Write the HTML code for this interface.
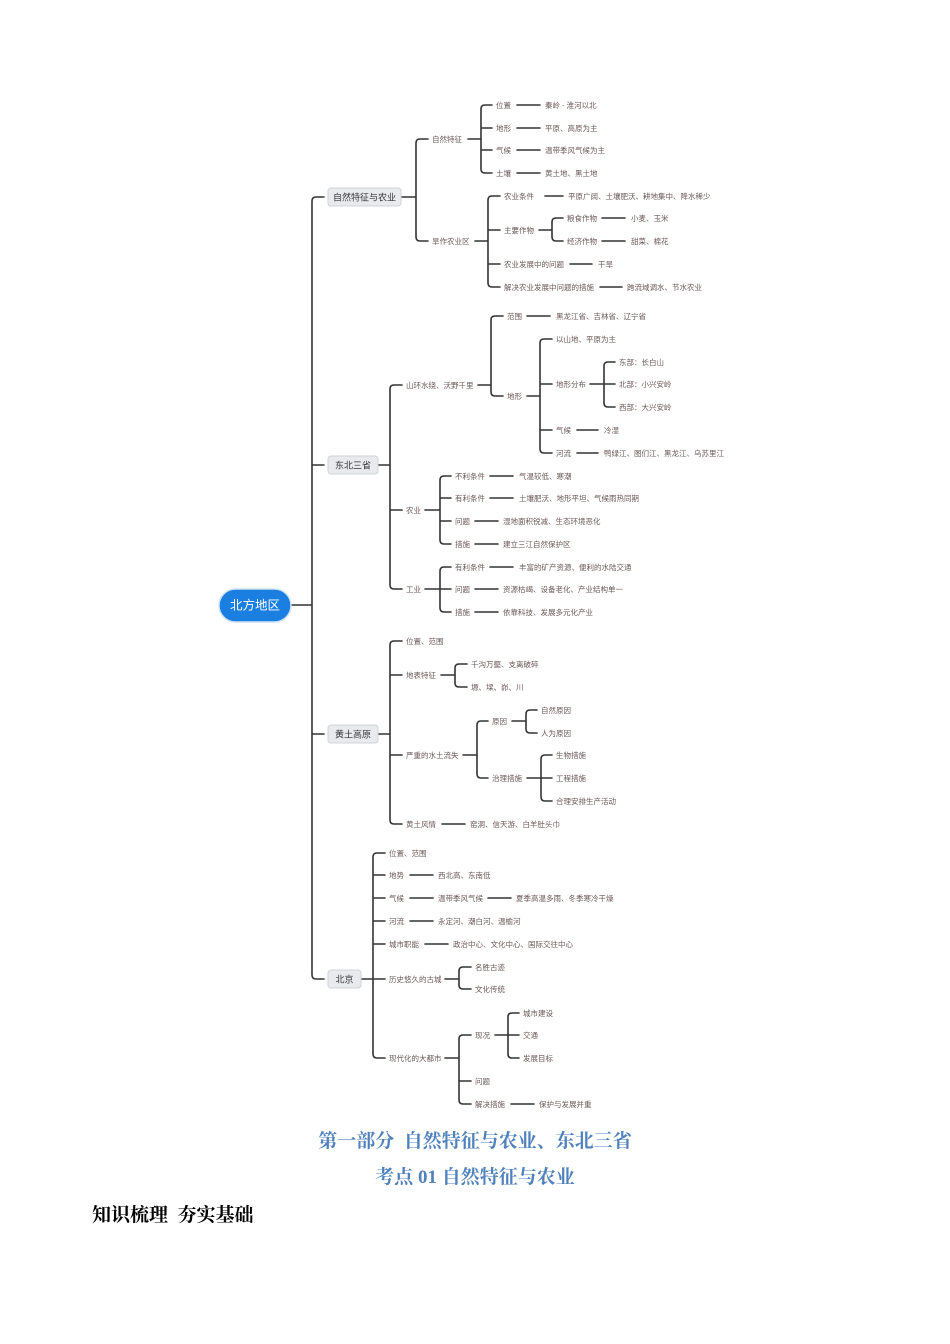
<!DOCTYPE html>
<html><head><meta charset="utf-8"><style>
html,body{margin:0;padding:0;background:#fff;width:950px;height:1344px;overflow:hidden}
svg{position:absolute;left:0;top:0}
.t{font-family:"Liberation Sans","Noto Sans CJK SC",sans-serif;font-size:7.5px;fill:#6b5757;dominant-baseline:central}
.b{font-family:"Liberation Sans","Noto Sans CJK SC",sans-serif;font-size:9px;fill:#333;dominant-baseline:central}
.h{position:absolute;left:0;width:950px;text-align:center;font-family:"Liberation Serif","Noto Serif CJK SC",serif;font-weight:bold;color:#4f81bd;font-size:19px}
</style></head><body>
<svg id="s" width="950" height="1344" viewBox="0 0 950 1344">
<g id="lines" fill="none" stroke="#333" stroke-width="1.6" stroke-linecap="round"></g>
<rect x="219" y="589" width="72" height="33" rx="16.5" fill="#1a7fe0" stroke="#cfe3f7" stroke-width="1.5"/>
<text x="255" y="605.5" text-anchor="middle" dominant-baseline="central" font-family="Liberation Sans,Noto Sans CJK SC,sans-serif" font-size="12.5" fill="#fff">北方地区</text>
<rect x="328" y="188" width="73" height="18" rx="3" fill="#e8eaed" stroke="#d0d3d8"/>
<text class="b" x="364.5" y="197.5" text-anchor="middle">自然特征与农业</text>
<rect x="328" y="456" width="50" height="18" rx="3" fill="#e8eaed" stroke="#d0d3d8"/>
<text class="b" x="353" y="465.5" text-anchor="middle">东北三省</text>
<rect x="328" y="725" width="50" height="18" rx="3" fill="#e8eaed" stroke="#d0d3d8"/>
<text class="b" x="353" y="734.5" text-anchor="middle">黄土高原</text>
<rect x="328" y="970" width="33" height="18" rx="3" fill="#e8eaed" stroke="#d0d3d8"/>
<text class="b" x="344.5" y="979.5" text-anchor="middle">北京</text>
<g transform="translate(0,0.5)">
<text class="t" x="432" y="139">自然特征</text>
<text class="t" x="432" y="241">旱作农业区</text>
<text class="t" x="496" y="105">位置</text><text class="t" x="545" y="105">秦岭 - 淮河以北</text>
<text class="t" x="496" y="128">地形</text><text class="t" x="545" y="128">平原、高原为主</text>
<text class="t" x="496" y="150">气候</text><text class="t" x="545" y="150">温带季风气候为主</text>
<text class="t" x="496" y="173">土壤</text><text class="t" x="545" y="173">黄土地、黑土地</text>
<text class="t" x="504" y="196">农业条件</text><text class="t" x="568" y="196">平原广阔、土壤肥沃、耕地集中、降水稀少</text>
<text class="t" x="504" y="230">主要作物</text>
<text class="t" x="567" y="218">粮食作物</text><text class="t" x="631" y="218">小麦、玉米</text>
<text class="t" x="567" y="241">经济作物</text><text class="t" x="631" y="241">甜菜、棉花</text>
<text class="t" x="504" y="264">农业发展中的问题</text><text class="t" x="598" y="264">干旱</text>
<text class="t" x="504" y="287">解决农业发展中问题的措施</text><text class="t" x="627" y="287">跨流域调水、节水农业</text>

<text class="t" x="406" y="385">山环水绕、沃野千里</text>
<text class="t" x="507" y="316">范围</text><text class="t" x="556" y="316">黑龙江省、吉林省、辽宁省</text>
<text class="t" x="507" y="396">地形</text>
<text class="t" x="556" y="339">以山地、平原为主</text>
<text class="t" x="556" y="384">地形分布</text>
<text class="t" x="619" y="362">东部：长白山</text>
<text class="t" x="619" y="384">北部：小兴安岭</text>
<text class="t" x="619" y="407">西部：大兴安岭</text>
<text class="t" x="556" y="430">气候</text><text class="t" x="604" y="430">冷湿</text>
<text class="t" x="556" y="453">河流</text><text class="t" x="604" y="453">鸭绿江、图们江、黑龙江、乌苏里江</text>
<text class="t" x="406" y="510">农业</text>
<text class="t" x="455" y="476">不利条件</text><text class="t" x="519" y="476">气温较低、寒潮</text>
<text class="t" x="455" y="498">有利条件</text><text class="t" x="519" y="498">土壤肥沃、地形平坦、气候雨热同期</text>
<text class="t" x="455" y="521">问题</text><text class="t" x="503" y="521">湿地面积锐减、生态环境恶化</text>
<text class="t" x="455" y="544">措施</text><text class="t" x="503" y="544">建立三江自然保护区</text>
<text class="t" x="406" y="589">工业</text>
<text class="t" x="455" y="567">有利条件</text><text class="t" x="519" y="567">丰富的矿产资源、便利的水陆交通</text>
<text class="t" x="455" y="589">问题</text><text class="t" x="503" y="589">资源枯竭、设备老化、产业结构单一</text>
<text class="t" x="455" y="612">措施</text><text class="t" x="503" y="612">依靠科技、发展多元化产业</text>

<text class="t" x="406" y="641">位置、范围</text>
<text class="t" x="406" y="675">地表特征</text>
<text class="t" x="471" y="664">千沟万壑、支离破碎</text>
<text class="t" x="471" y="687">塬、墚、峁、川</text>
<text class="t" x="406" y="755">严重的水土流失</text>
<text class="t" x="492" y="721">原因</text>
<text class="t" x="541" y="710">自然原因</text>
<text class="t" x="541" y="733">人为原因</text>
<text class="t" x="492" y="778">治理措施</text>
<text class="t" x="556" y="755">生物措施</text>
<text class="t" x="556" y="778">工程措施</text>
<text class="t" x="556" y="801">合理安排生产活动</text>
<text class="t" x="406" y="824">黄土风情</text><text class="t" x="470" y="824">窑洞、信天游、白羊肚头巾</text>

<text class="t" x="389" y="853">位置、范围</text>
<text class="t" x="389" y="875">地势</text><text class="t" x="438" y="875">西北高、东南低</text>
<text class="t" x="389" y="898">气候</text><text class="t" x="438" y="898">温带季风气候</text><text class="t" x="516" y="898">夏季高温多雨、冬季寒冷干燥</text>
<text class="t" x="389" y="921">河流</text><text class="t" x="438" y="921">永定河、潮白河、温榆河</text>
<text class="t" x="389" y="944">城市职能</text><text class="t" x="453" y="944">政治中心、文化中心、国际交往中心</text>
<text class="t" x="389" y="979">历史悠久的古城</text>
<text class="t" x="475" y="967">名胜古迹</text>
<text class="t" x="475" y="989">文化传统</text>
<text class="t" x="389" y="1058">现代化的大都市</text>
<text class="t" x="475" y="1035">现况</text>
<text class="t" x="523" y="1013">城市建设</text>
<text class="t" x="523" y="1035">交通</text>
<text class="t" x="523" y="1058">发展目标</text>
<text class="t" x="475" y="1081">问题</text>
<text class="t" x="475" y="1104">解决措施</text><text class="t" x="539" y="1104">保护与发展并重</text>
</g>
</svg>
<div class="h" style="top:1126px">第一部分&nbsp;&nbsp;自然特征与农业、东北三省</div>
<div class="h" style="top:1162px">考点 01 自然特征与农业</div>
<div style="position:absolute;left:92px;top:1200px;font-family:'Liberation Serif','Noto Serif CJK SC',serif;font-weight:bold;font-size:19px;color:#000">知识梳理&nbsp;&nbsp;夯实基础</div>
<script>
var B=[
[291,605,312,328,[197,465,734,979]],
[401,197,416,432,[139,241]],
[468,139,481,496,[105,128,150,173]],
[475,241,488,504,[196,230,264,287]],
[539,230,552,567,[218,241]],
[378,465,390,406,[385,510,589]],
[478,385,491,507,[316,396]],
[527,396,540,556,[339,384,430,453]],
[590,384,604,619,[362,384,407]],
[425,510,440,455,[476,498,521,544]],
[425,589,440,455,[567,589,612]],
[378,734,390,406,[641,675,755,824]],
[441,675,455,471,[664,687]],
[463,755,477,492,[721,778]],
[512,721,526,541,[710,733]],
[527,778,541,556,[755,778,801]],
[361,979,373,389,[853,875,898,921,944,979,1058]],
[445,979,459,475,[967,989]],
[445,1058,459,475,[1035,1081,1104]],
[495,1035,508,523,[1013,1035,1058]]];
var D=[[517,540,105],[517,540,128],[517,540,150],[517,540,173],[545,563,196],[602,625,218],[602,625,241],[570,592,264],[600,622,287],
[527,550,316],[577,598,430],[577,598,453],[490,513,476],[490,513,498],[475,498,521],[475,498,544],[490,513,567],[475,498,589],[475,498,612],
[442,465,824],[410,433,875],[410,433,898],[488,511,898],[410,433,921],[425,448,944],[511,534,1104]];
var d="";
B.forEach(function(b){var px=b[0],py=b[1],bx=b[2],cx=b[3]-4,ys=b[4];var a=Math.min.apply(0,ys),z=Math.max.apply(0,ys);
d+="M"+px+","+py+"H"+bx;
d+="M"+cx+","+a+"H"+(bx+4)+"Q"+bx+","+a+" "+bx+","+(a+4)+"V"+(z-4)+"Q"+bx+","+z+" "+(bx+4)+","+z+"H"+cx;
ys.forEach(function(y){if(y!=a&&y!=z)d+="M"+bx+","+y+"H"+cx;});});
D.forEach(function(x){d+="M"+x[0]+","+x[2]+"H"+x[1];});
var p=document.createElementNS("http://www.w3.org/2000/svg","path");p.setAttribute("d",d);document.getElementById("lines").appendChild(p);
</script>
</body></html>
